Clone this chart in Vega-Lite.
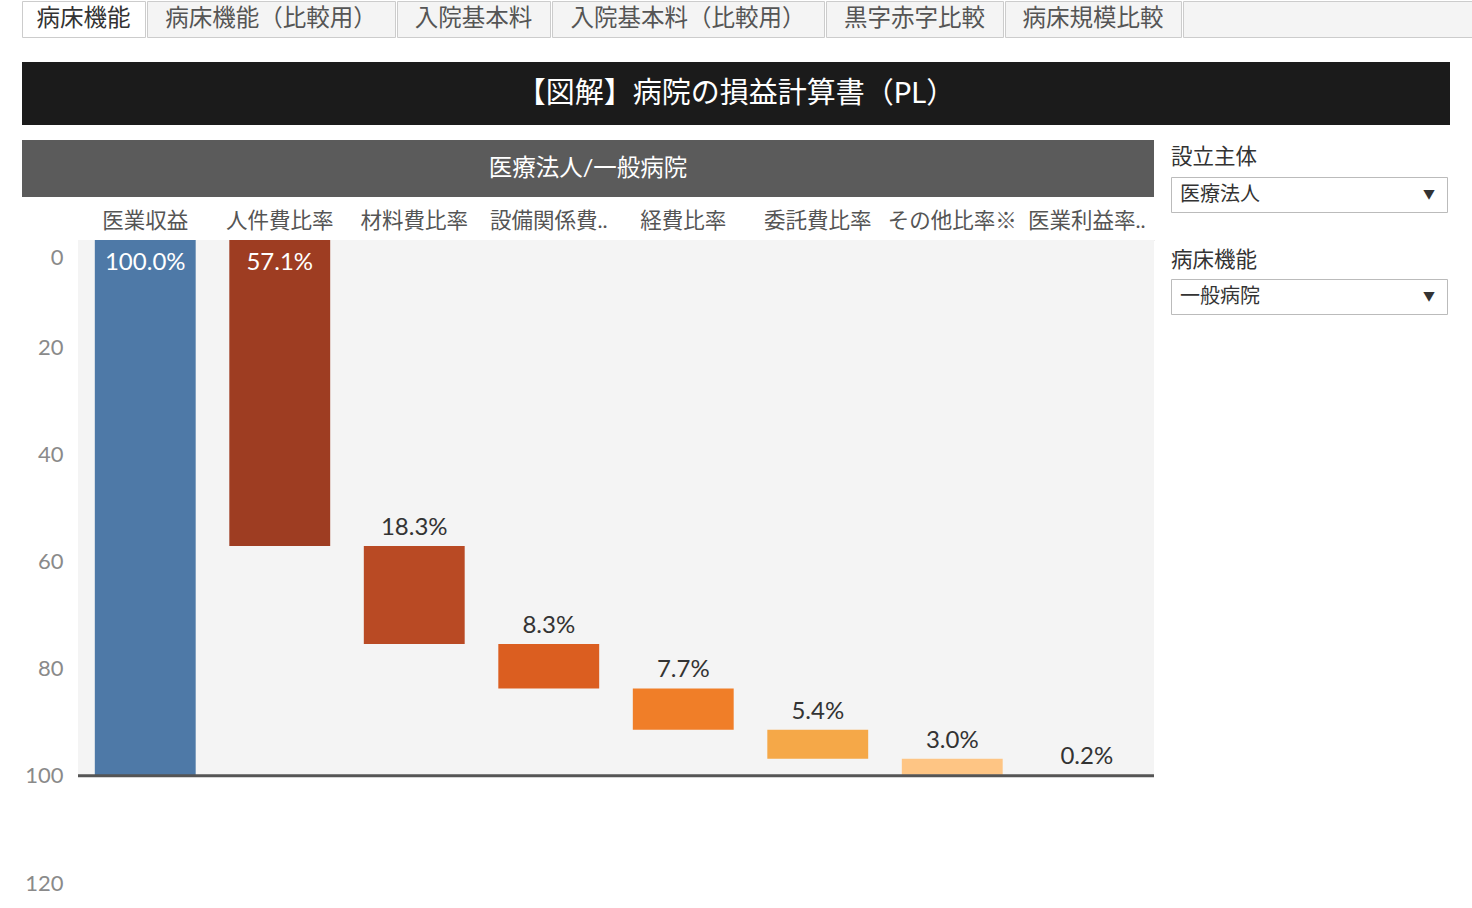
{
  "$schema": "https://vega.github.io/schema/vega-lite/v6.json",
  "padding": {"left": 21, "top": 0, "right": 0, "bottom": 0},
  "background": "white",
  "config": {
    "font": "Lato, 'Noto Sans CJK JP', sans-serif",
    "view": {"stroke": null},
    "text": {"font": "Lato, 'Noto Sans CJK JP', sans-serif"},
    "axis": {"labelFont": "Lato, 'Noto Sans CJK JP', sans-serif"}
  },
  "datasets": {
    "pl": [
      {"item": "医業収益", "start": 0, "end": 100, "pct": 1.0},
      {"item": "人件費比率", "start": 0, "end": 57.1, "pct": 0.571},
      {"item": "材料費比率", "start": 57.1, "end": 75.4, "pct": 0.183},
      {"item": "設備関係費..", "start": 75.4, "end": 83.7, "pct": 0.083},
      {"item": "経費比率", "start": 83.7, "end": 91.4, "pct": 0.077},
      {"item": "委託費比率", "start": 91.4, "end": 96.8, "pct": 0.054},
      {"item": "その他比率※", "start": 96.8, "end": 99.8, "pct": 0.03},
      {"item": "医業利益率..", "start": 99.8, "end": 100, "pct": 0.002}
    ]
  },
  "vconcat": [
    {
      "spacing": 24,
      "vconcat": [
        {
          "spacing": 0,
          "hconcat": [
            {"width": 123, "height": 36, "view": {"fill": "#ffffff", "stroke": "#cccccc"}, "data": {"values": [{"t": "病床機能"}]}, "mark": {"type": "text", "fontSize": 23.5, "color": "#333333"}, "encoding": {"text": {"field": "t"}}},
            {"width": 248, "height": 36, "view": {"fill": "#f4f4f4", "stroke": "#cccccc"}, "data": {"values": [{"t": "病床機能（比較用）"}]}, "mark": {"type": "text", "fontSize": 23.5, "color": "#555555"}, "encoding": {"text": {"field": "t"}}},
            {"width": 153, "height": 36, "view": {"fill": "#f4f4f4", "stroke": "#cccccc"}, "data": {"values": [{"t": "入院基本料"}]}, "mark": {"type": "text", "fontSize": 23.5, "color": "#555555"}, "encoding": {"text": {"field": "t"}}},
            {"width": 272, "height": 36, "view": {"fill": "#f4f4f4", "stroke": "#cccccc"}, "data": {"values": [{"t": "入院基本料（比較用）"}]}, "mark": {"type": "text", "fontSize": 23.5, "color": "#555555"}, "encoding": {"text": {"field": "t"}}},
            {"width": 177, "height": 36, "view": {"fill": "#f4f4f4", "stroke": "#cccccc"}, "data": {"values": [{"t": "黒字赤字比較"}]}, "mark": {"type": "text", "fontSize": 23.5, "color": "#555555"}, "encoding": {"text": {"field": "t"}}},
            {"width": 176, "height": 36, "view": {"fill": "#f4f4f4", "stroke": "#cccccc"}, "data": {"values": [{"t": "病床規模比較"}]}, "mark": {"type": "text", "fontSize": 23.5, "color": "#555555"}, "encoding": {"text": {"field": "t"}}},
            {"width": 301, "height": 36, "view": {"fill": "#f4f4f4", "stroke": "#cccccc"}, "data": {"values": [{"t": ""}]}, "mark": {"type": "text", "fontSize": 21}, "encoding": {"text": {"field": "t"}}}
          ]
        },
        {
          "width": 1428, "height": 63,
          "view": {"fill": "#1b1b1b"},
          "data": {"values": [{"t": "【図解】病院の損益計算書（PL）"}]},
          "mark": {"type": "text", "fontSize": 29, "color": "#ffffff", "baseline": "middle"},
          "encoding": {"text": {"field": "t"}}
        }
      ]
    },
    {
      "spacing": 14,
      "hconcat": [
        {
          "spacing": 13,
          "vconcat": [
            {
              "width": 1132, "height": 57,
              "view": {"fill": "#5b5b5b"},
              "data": {"values": [{"t": "医療法人/一般病院"}]},
              "mark": {"type": "text", "fontSize": 23.5, "color": "#ffffff", "baseline": "middle"},
              "encoding": {"text": {"field": "t"}}
            },
            {
              "width": 1132, "height": 643,
              "layer": [
                {
                  "data": {"values": [{}]},
                  "mark": {"type": "rect", "color": "#f4f4f4"},
                  "encoding": {
                    "x": {"value": 56}, "x2": {"value": "width"},
                    "y": {"datum": 0, "type": "quantitative", "scale": {"domain": [0, 120], "reverse": true, "nice": false},
                      "axis": {"title": null, "offset": -56, "values": [0, 20, 40, 60, 80, 100, 120], "grid": false, "domain": false, "ticks": false, "labelFontSize": 22, "labelColor": "#8a8a8a", "labelPadding": 15, "labelOffset": {"condition": {"test": "datum.value === 0", "value": 17}, "value": 0}}},
                    "y2": {"datum": 100}
                  }
                },
                {
                  "data": {"name": "pl"},
                  "encoding": {
                    "x": {"field": "item", "type": "nominal", "sort": null,
                      "scale": {"range": [56, 1132], "paddingInner": 0.25, "paddingOuter": 0.125},
                      "axis": {"orient": "top", "title": null, "labelAngle": 0, "ticks": false, "domain": true, "domainColor": "#dddddd", "domainWidth": 1, "labelFontSize": 21.5, "labelColor": "#555555", "labelPadding": 8}},
                    "y": {"field": "start", "type": "quantitative", "scale": {"domain": [0, 120], "reverse": true, "nice": false},
                      "axis": {"title": null, "offset": -56, "values": [0, 20, 40, 60, 80, 100, 120], "grid": false, "domain": false, "ticks": false, "labelFontSize": 22, "labelColor": "#8a8a8a", "labelPadding": 15, "labelOffset": {"condition": {"test": "datum.value === 0", "value": 17}, "value": 0}}}
                  },
                  "layer": [
                    {
                      "mark": {"type": "bar"},
                      "encoding": {
                        "y2": {"field": "end"},
                        "color": {"field": "item", "type": "nominal", "sort": null, "legend": null,
                          "scale": {"domain": ["医業収益", "人件費比率", "材料費比率", "設備関係費..", "経費比率", "委託費比率", "その他比率※", "医業利益率.."],
                                    "range": ["#4e79a7", "#9e3d22", "#b94a24", "#db5e20", "#f07e28", "#f5a848", "#fec584", "#ffe0b8"]}}
                      }
                    },
                    {
                      "transform": [{"filter": "datum.start == 0"}],
                      "mark": {"type": "text", "baseline": "top", "dy": 11, "fontSize": 24, "color": "#ffffff"},
                      "encoding": {"text": {"field": "pct", "type": "quantitative", "format": ".1%"}}
                    },
                    {
                      "transform": [{"filter": "datum.start > 0"}],
                      "mark": {"type": "text", "baseline": "bottom", "dy": -6, "fontSize": 24, "color": "#333333"},
                      "encoding": {"text": {"field": "pct", "type": "quantitative", "format": ".1%"}}
                    }
                  ]
                },
                {
                  "data": {"values": [{}]},
                  "mark": {"type": "rule", "color": "#555555", "strokeWidth": 3},
                  "encoding": {
                    "x": {"value": 56}, "x2": {"value": "width"},
                    "y": {"datum": 100, "type": "quantitative", "scale": {"domain": [0, 120], "reverse": true, "nice": false},
                      "axis": {"title": null, "offset": -56, "values": [0, 20, 40, 60, 80, 100, 120], "grid": false, "domain": false, "ticks": false, "labelFontSize": 22, "labelColor": "#8a8a8a", "labelPadding": 15, "labelOffset": {"condition": {"test": "datum.value === 0", "value": 17}, "value": 0}}}
                  }
                }
              ]
            }
          ]
        },
        {
          "spacing": 30,
          "vconcat": [
            {
              "spacing": 0,
              "vconcat": [
                {"width": 276, "height": 36, "data": {"values": [{"t": "設立主体"}]}, "mark": {"type": "text", "fontSize": 21.5, "color": "#333333", "align": "left", "dx": -138, "dy": 0}, "encoding": {"text": {"field": "t"}}},
                {"width": 276, "height": 35, "view": {"fill": "#ffffff", "stroke": "#bbbbbb"},
                 "data": {"values": [{"t": "医療法人", "a": "▼"}]},
                 "layer": [
                   {"mark": {"type": "text", "fontSize": 20, "color": "#333333", "align": "left", "dx": -129}, "encoding": {"text": {"field": "t"}}},
                   {"mark": {"type": "text", "fontSize": 12, "color": "#333333", "dx": 120}, "encoding": {"text": {"field": "a"}}}
                 ]}
              ]
            },
            {
              "spacing": 0,
              "vconcat": [
                {"width": 276, "height": 35, "data": {"values": [{"t": "病床機能"}]}, "mark": {"type": "text", "fontSize": 21.5, "color": "#333333", "align": "left", "dx": -138, "dy": 0}, "encoding": {"text": {"field": "t"}}},
                {"width": 276, "height": 35, "view": {"fill": "#ffffff", "stroke": "#bbbbbb"},
                 "data": {"values": [{"t": "一般病院", "a": "▼"}]},
                 "layer": [
                   {"mark": {"type": "text", "fontSize": 20, "color": "#333333", "align": "left", "dx": -129}, "encoding": {"text": {"field": "t"}}},
                   {"mark": {"type": "text", "fontSize": 12, "color": "#333333", "dx": 120}, "encoding": {"text": {"field": "a"}}}
                 ]}
              ]
            }
          ]
        }
      ]
    }
  ],
  "spacing": 15
}
